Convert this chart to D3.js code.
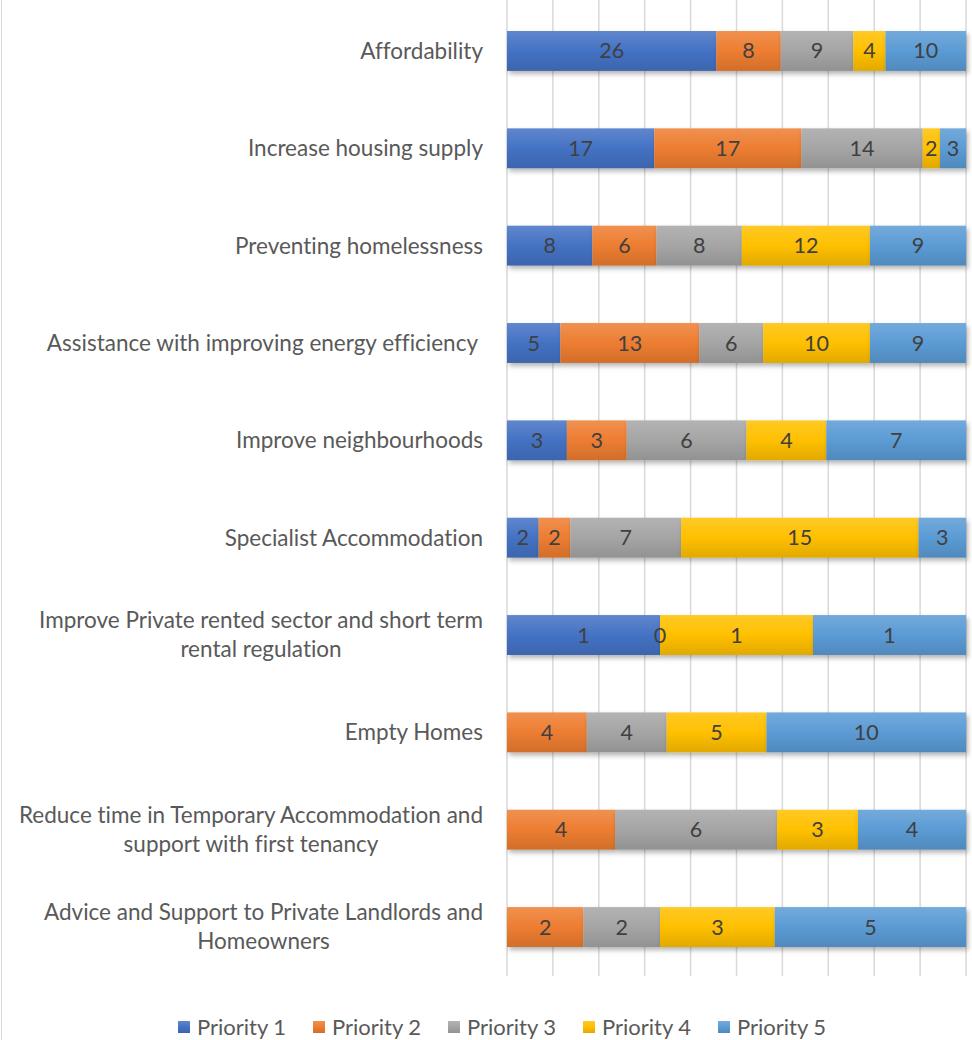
<!DOCTYPE html>
<html>
<head>
<meta charset="utf-8">
<script src="https://cdn.jsdelivr.net/npm/d3@7"></script>
<style>
  html, body { margin: 0; padding: 0; background: #fff; }
  svg { display: block; }
  text { font-family: Lato, "Open Sans", sans-serif; font-variant-ligatures: none; }
</style>
</head>
<body>
<svg id="chart" width="972" height="1040"></svg>
<script>
const categories = [
  "Affordability",
  "Increase housing supply",
  "Preventing homelessness",
  "Assistance with improving energy efficiency ",
  "Improve neighbourhoods",
  "Specialist Accommodation",
  "Improve Private rented sector and short term rental regulation",
  "Empty Homes",
  "Reduce time in Temporary Accommodation and support with first tenancy",
  "Advice and Support to Private Landlords and Homeowners"
];
const seriesNames = ["Priority 1", "Priority 2", "Priority 3", "Priority 4", "Priority 5"];
const priority1 = [26, 17, 8, 5, 3, 2, 1, null, null, null];
const priority2 = [8, 17, 6, 13, 3, 2, 0, 4, 4, 2];
const priority3 = [9, 14, 8, 6, 6, 7, null, 4, 6, 2];
const priority4 = [4, 2, 12, 10, 4, 15, 1, 5, 3, 3];
const priority5 = [10, 3, 9, 9, 7, 3, 1, 10, 4, 5];
const colors = ["#4472C4", "#ED7D31", "#A5A5A5", "#FFC000", "#5B9BD5"];

const seriesValues = [priority1, priority2, priority3, priority4, priority5];
const rows = categories.map((c, i) => {
  const r = { category: c };
  seriesNames.forEach((s, j) => { r[s] = seriesValues[j][i]; });
  return r;
});

const svg = d3.select("#chart");
const defs = svg.append("defs");
colors.forEach((c, j) => {
  const g = defs.append("linearGradient").attr("id", "grad" + j)
    .attr("x1", 0).attr("y1", 0).attr("x2", 0).attr("y2", 1);
  const base = d3.color(c);
  g.append("stop").attr("offset", "0%").attr("stop-color", d3.interpolateRgb(c, "#fff")(0.15));
  g.append("stop").attr("offset", "50%").attr("stop-color", c);
  g.append("stop").attr("offset", "100%").attr("stop-color", base.darker(0.35));
});
const f = defs.append("filter").attr("id", "shadow")
  .attr("x", "-5%").attr("y", "-30%").attr("width", "115%").attr("height", "180%");
f.append("feDropShadow").attr("dx", 2).attr("dy", 3).attr("stdDeviation", 2.5)
  .attr("flood-color", "#000").attr("flood-opacity", 0.3);

// outer frame (left edge visible)
svg.append("line").attr("x1", 1.5).attr("x2", 1.5).attr("y1", 0).attr("y2", 1040)
  .attr("stroke", "#d9d9d9").attr("stroke-width", 1);

const x = d3.scaleLinear().domain([0, 1]).range([507, 966]);
const y = d3.scaleBand().domain(categories).range([2, 976])
  .paddingInner(0.59).paddingOuter(0.298);

// gridlines
svg.append("g").selectAll("line").data(x.ticks(10)).join("line")
  .attr("x1", d => x(d)).attr("x2", d => x(d))
  .attr("y1", 0).attr("y2", 976)
  .attr("stroke", "#d9d9d9").attr("stroke-width", 1.5);

const stack = d3.stack().keys(seriesNames)
  .value((d, k) => d[k] == null ? 0 : d[k])
  .offset(d3.stackOffsetExpand);
const stacked = stack(rows);

const barsG = svg.append("g");
stacked.forEach((layer, j) => {
  barsG.append("g").attr("filter", "url(#shadow)")
    .selectAll("rect").data(layer).join("rect")
    .attr("x", d => x(d[0]))
    .attr("width", d => Math.max(0, x(d[1]) - x(d[0])))
    .attr("y", d => y(d.data.category))
    .attr("height", y.bandwidth())
    .attr("fill", "url(#grad" + j + ")");
});

// data labels
const labelsG = svg.append("g");
stacked.forEach((layer, j) => {
  labelsG.selectAll(null).data(layer.filter(d => d.data[layer.key] != null)).join("text")
    .attr("x", d => (x(d[0]) + x(d[1])) / 2)
    .attr("y", d => y(d.data.category) + y.bandwidth() / 2)
    .attr("dy", "0.35em")
    .attr("text-anchor", "middle")
    .attr("font-size", 21.5)
    .attr("fill", "#404040")
    .text(d => d.data[layer.key]);
});

// category labels
const catG = svg.append("g");
const fs = 22.5;
const maxW = 470;
const measure = catG.append("text").attr("font-size", fs).attr("visibility", "hidden");
function wrap(str) {
  const words = str.trim().split(" ");
  const lines = [];
  let cur = "";
  words.forEach(w => {
    const test = cur ? cur + " " + w : w;
    measure.text(test);
    if (measure.node().getComputedTextLength() > maxW && cur) { lines.push(cur); cur = w; }
    else cur = test;
  });
  lines.push(cur);
  return lines;
}
categories.forEach(c => {
  const lines = wrap(c);
  const widths = lines.map(l => { measure.text(l); return measure.node().getComputedTextLength(); });
  const blockW = d3.max(widths);
  const rightEdge = 483 - (c.endsWith(" ") && lines.length === 1 ? 5 : 0);
  const cx = rightEdge - blockW / 2;
  const cy = y(c) + y.bandwidth() / 2;
  const lh = 29;
  lines.forEach((l, i) => {
    catG.append("text")
      .attr("x", cx).attr("y", cy + (i - (lines.length - 1) / 2) * lh)
      .attr("dy", "0.35em")
      .attr("text-anchor", "middle")
      .attr("font-size", fs)
      .attr("fill", "#595959")
      .text(l);
  });
});
measure.remove();

// legend
const legend = svg.append("g");
const legendX = d3.scaleLinear().domain([0, 4]).range([178, 718]);
seriesNames.forEach((s, j) => {
  const g = legend.append("g").attr("transform", `translate(${legendX(j)},1027)`);
  g.append("rect").attr("x", 0).attr("y", -6).attr("width", 12).attr("height", 12)
    .attr("fill", "url(#grad" + j + ")");
  g.append("text").attr("x", 19).attr("y", 0).attr("dy", "0.35em")
    .attr("font-size", 22).attr("fill", "#595959").text(s);
});
</script>
</body>
</html>
